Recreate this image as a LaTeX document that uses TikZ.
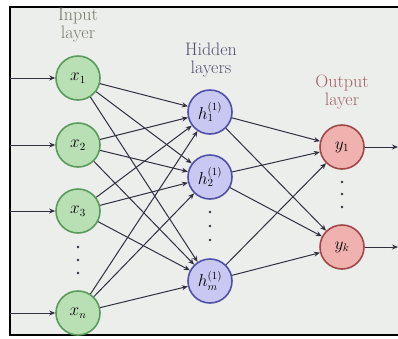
\documentclass[tikz,border=0pt]{standalone}
\usetikzlibrary{arrows.meta}
\definecolor{bgc}{HTML}{ECEEEC}
\definecolor{edgec}{HTML}{303040}
\definecolor{infill}{HTML}{B9E0B5}
\definecolor{indraw}{HTML}{5A9A5A}
\definecolor{hidfill}{HTML}{C8C8F2}
\definecolor{hiddraw}{HTML}{5050A8}
\definecolor{outfill}{HTML}{F0B2AE}
\definecolor{outdraw}{HTML}{A04848}
\definecolor{intext}{HTML}{787868}
\definecolor{hidtext}{HTML}{505070}
\definecolor{outtext}{HTML}{A06060}
\begin{document}
\begin{tikzpicture}[x=1pt,y=-1pt,
  neuron/.style={circle,minimum size=44pt,inner sep=0pt,line width=1.6pt,font=\fontsize{16}{18}\selectfont},
  inneuron/.style={neuron,fill=infill,draw=indraw},
  hidneuron/.style={neuron,fill=hidfill,draw=hiddraw},
  outneuron/.style={neuron,fill=outfill,draw=outdraw},
  conn/.style={-{Stealth[length=6pt,width=5pt]},line width=1pt,draw=edgec},
  lbl/.style={align=center,font=\fontsize{18}{18}\selectfont},
  dotc/.style={fill=edgec}
]
\useasboundingbox (0,0) rectangle (398,338);
\fill[white] (0,0) rectangle (398,338);
\fill[bgc] (10,7) rectangle (398,335);
\draw[line width=1.5pt,black] (398,7) -- (10,7) -- (10,335) -- (398,335);

% labels
\node[lbl,text=intext] (lin) at (78,25) {Input\\layer};
\node[lbl,text=hidtext] (lhid) at (211,60) {Hidden\\layers};
\node[lbl,text=outtext] (lout) at (342,92) {Output\\layer};

% input neurons
\node[inneuron] (x1) at (78,78) {$x_1$};
\node[inneuron] (x2) at (78,145) {$x_2$};
\node[inneuron] (x3) at (78,211) {$x_3$};
\node[inneuron] (xn) at (78,313) {$x_n$};

% hidden neurons
\node[hidneuron] (h1) at (210,112) {$h_1^{(1)}$};
\node[hidneuron] (h2) at (210,177) {$h_2^{(1)}$};
\node[hidneuron] (hm) at (210,281) {$h_m^{(1)}$};

% output neurons
\node[outneuron] (y1) at (342,147) {$y_1$};
\node[outneuron] (yk) at (342,247) {$y_k$};

% ellipsis dots
\foreach \x/\y in {78/247,78/260,78/273,210/212,210/226,210/240,342/182,342/194,342/207}
  \fill[dotc] (\x,\y) circle (1.3pt);

% free ends
\coordinate (i1) at (10,78);
\coordinate (i2) at (10,145);
\coordinate (i3) at (10,211);
\coordinate (in) at (10,313);
\coordinate (o1) at (398,147);
\coordinate (ok) at (398,247);

\foreach \a/\b in {i1/x1,i2/x2,i3/x3,in/xn,y1/o1,yk/ok}
  \draw[conn] (\a) -- (\b);
\foreach \a in {x1,x2,x3,xn}
  \foreach \b in {h1,h2,hm}
    \draw[conn] (\a) -- (\b);
\foreach \a in {h1,h2,hm}
  \foreach \b in {y1,yk}
    \draw[conn] (\a) -- (\b);
\end{tikzpicture}
\end{document}
